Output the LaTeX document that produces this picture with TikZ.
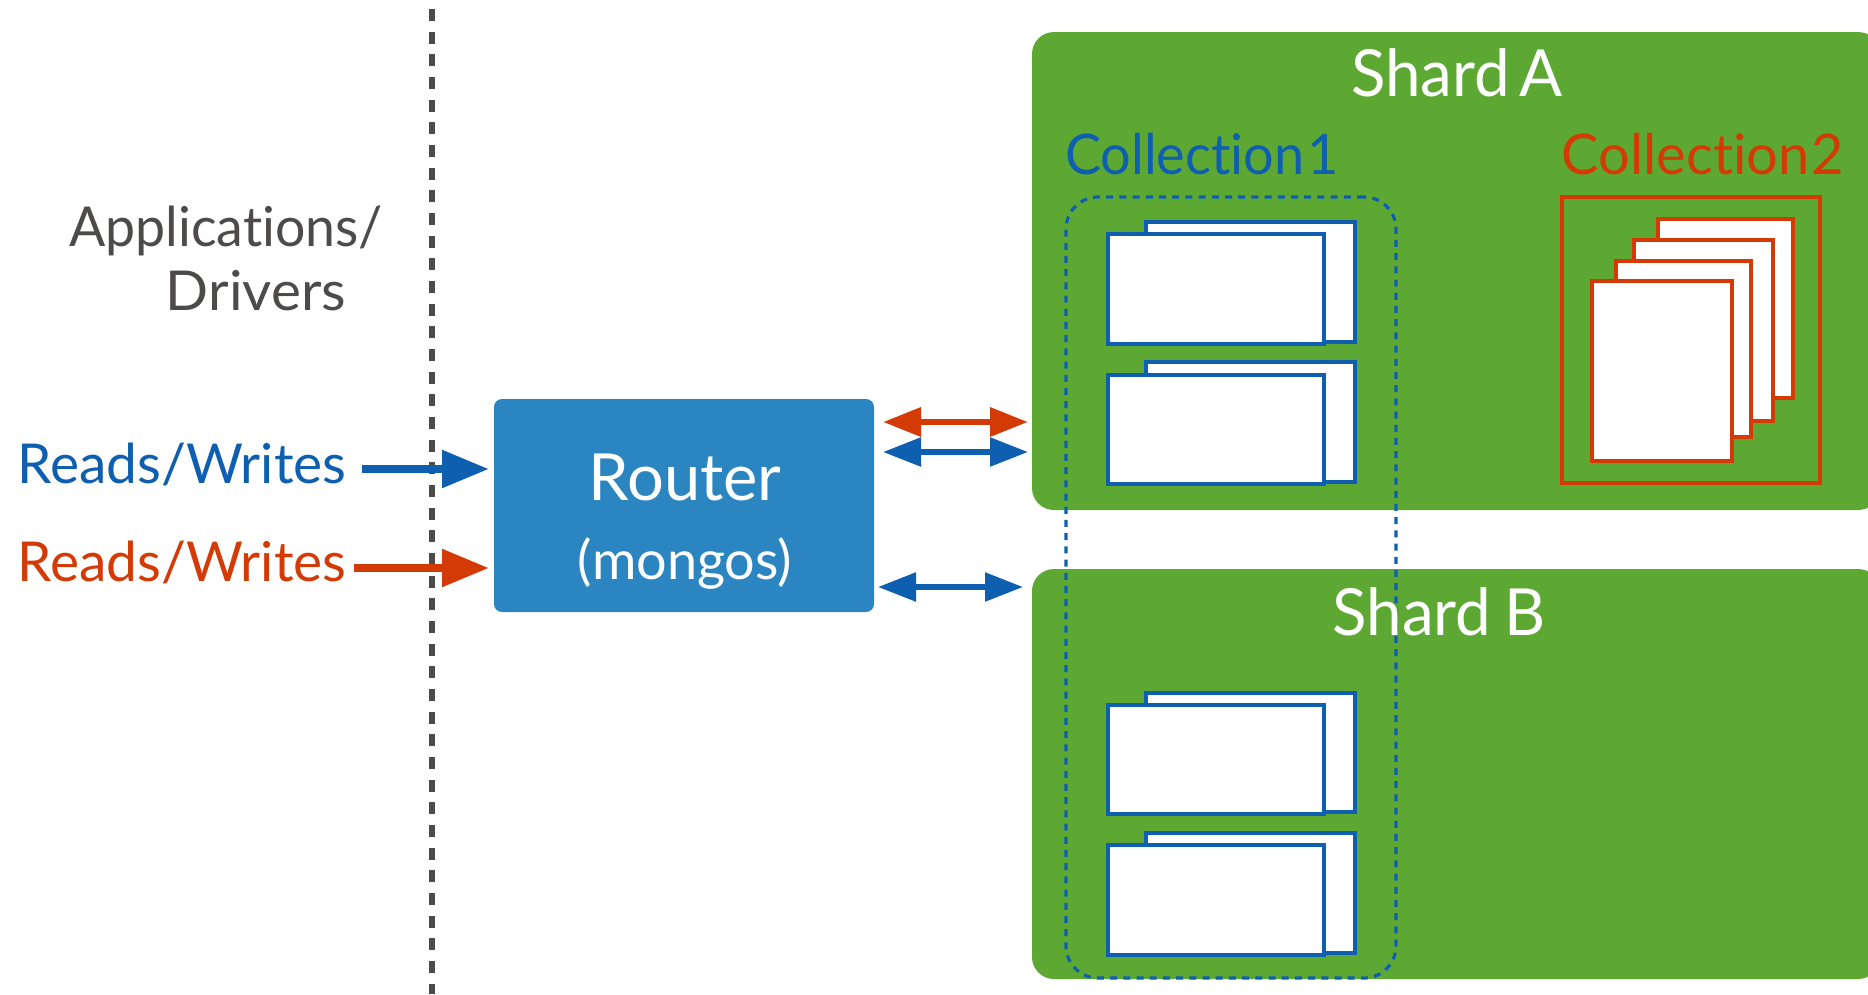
\documentclass[tikz,border=0pt]{standalone}
\usepackage{fontspec}
\setmainfont{Lato}[Ligatures=NoCommon]
\usetikzlibrary{arrows.meta}
\definecolor{shardgreen}{HTML}{5DA832}
\definecolor{cblue}{HTML}{0F5FB0}
\definecolor{cred}{HTML}{D43A05}
\definecolor{routerblue}{HTML}{2B85C1}
\definecolor{inkgray}{HTML}{4D4A4A}
\newcommand{\rectat}[6]{\node[#1,minimum width=#5-#3,minimum height=#6-#4] (#2) at ({(#3+#5)/2},{(#4+#6)/2}) {};}
\newcommand{\txt}[7]{\node[anchor=base,inner sep=0pt,text=#2,font=\fontsize{#3}{#3}\selectfont] at (#4,#5) {\spaceskip=#7\fontdimen2\font\relax\scalebox{#6}[1]{#1}};}
\tikzset{
 x=1pt,y=-1pt,
 box/.style={rectangle,inner sep=0pt,outer sep=0pt},
 shard/.style={box,fill=shardgreen,rounded corners=22pt},
 router/.style={box,fill=routerblue,rounded corners=8pt},
 bluedoc/.style={box,fill=white,draw=cblue,line width=3.2pt},
 reddoc/.style={box,fill=white,draw=cred,line width=3.2pt},
 redframe/.style={box,draw=cred,line width=3.2pt},
 dotframe/.style={box,draw=cblue,line width=3.2pt,rounded corners=32pt,dash pattern=on 7pt off 6.2pt},
 bigarrow/.style={line width=8.5pt,-{Triangle[length=47pt,width=36pt]}},
 dbl/.style={{Triangle[length=38pt,width=28pt]}-{Triangle[length=38pt,width=28pt]}},
 divider/.style={draw=inkgray,line width=6pt,dash pattern=on 12pt off 10.67pt},
}
\begin{document}
\begin{tikzpicture}
\useasboundingbox (0,0) rectangle (1868,994);
\fill[white] (0,0) rectangle (1868,994);
\begin{scope}
\clip (0,0) rectangle (1868,994);
\rectat{shard}{shardA}{1032}{32}{1880}{510}
\rectat{shard}{shardB}{1032}{569}{1880}{979}
\end{scope}
\coordinate (divtop) at (432,9);
\coordinate (divbot) at (432,994);
\draw[divider] (divtop) -- (divbot);
\rectat{router}{router}{494}{399}{874}{612}
% collection 1 documents
\rectat{bluedoc}{a1b}{1146}{222}{1355}{342}
\rectat{bluedoc}{a1f}{1108}{234}{1324}{344}
\rectat{bluedoc}{a2b}{1146}{362}{1355}{482}
\rectat{bluedoc}{a2f}{1108}{375}{1324}{484}
\rectat{bluedoc}{b1b}{1146}{693}{1355}{812}
\rectat{bluedoc}{b1f}{1108}{705}{1324}{814}
\rectat{bluedoc}{b2b}{1146}{833}{1355}{953}
\rectat{bluedoc}{b2f}{1108}{845}{1324}{955}
\rectat{dotframe}{coll1}{1066}{197}{1396}{978}
% collection 2
\rectat{redframe}{coll2}{1562}{197}{1820}{483}
\rectat{reddoc}{r1}{1658}{219}{1793}{398}
\rectat{reddoc}{r2}{1634}{240}{1773}{421}
\rectat{reddoc}{r3}{1616}{261}{1751}{437}
\rectat{reddoc}{r4}{1592}{281}{1732}{461}
% texts
\txt{Shard A}{white}{65}{1457}{96}{0.98}{0.6}
\txt{Shard B}{white}{65}{1439}{635}{0.98}{0.8}
\txt{Collection 1}{cblue}{56}{1202}{174}{0.965}{0.25}
\txt{Collection 2}{cred}{56}{1703}{174}{1}{0.15}
\txt{Router}{white}{65}{685}{500}{1}{1}
\txt{(mongos)}{white}{54}{685}{579}{1}{1}
\txt{Reads/Writes}{cblue}{55}{182}{483}{1}{1}
\txt{Reads/Writes}{cred}{55}{182}{581}{1}{1}
\txt{Applications/}{inkgray}{55}{226}{246}{0.975}{1}
\txt{Drivers}{inkgray}{55}{256}{310}{1.03}{1}
% arrows
\coordinate (inB) at (362,469);
\coordinate (tipB) at (489,469);
\coordinate (inR) at (354,568);
\coordinate (tipR) at (489,568);
\draw[bigarrow,cblue] (inB) -- (tipB);
\draw[bigarrow,cred] (inR) -- (tipR);
\coordinate (r1l) at (883,422); \coordinate (r1r) at (1028,422);
\coordinate (b1l) at (883,452); \coordinate (b1r) at (1028,452);
\coordinate (b2l) at (878,587); \coordinate (b2r) at (1023,587);
\draw[dbl,cred,line width=6.5pt] (r1l) -- (r1r);
\draw[dbl,cblue,line width=5.5pt] (b1l) -- (b1r);
\draw[dbl,cblue,line width=5.5pt] (b2l) -- (b2r);
\end{tikzpicture}
\end{document}
